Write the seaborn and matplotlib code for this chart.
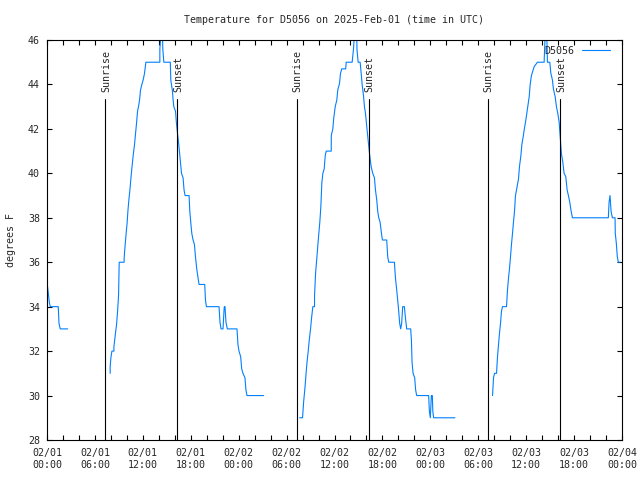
import matplotlib
matplotlib.use('Agg')
import matplotlib.pyplot as plt
import matplotlib.transforms as mtransforms
import pandas as pd
import seaborn as sns

title = 'Temperature for D5056 on 2025-Feb-01 (time in UTC)'
station = 'D5056'
ylabel = 'degrees F'

# hours since 2025-02-01 00:00 UTC, temperature in deg F
seg1_hours = [0.0, 0.12, 0.29, 0.41, 1.41, 1.5, 1.66, 2.6]
seg1_temps = [35.1, 34.75, 34.2, 34.0, 34.0, 33.25, 33.0, 33.0]

seg2_hours = [7.91, 7.91, 8.0, 8.13, 8.38, 8.38, 8.54, 8.71, 8.84, 8.96,
              9.04, 9.66, 9.66, 9.79, 9.91, 10.04, 10.13, 10.25, 10.38, 10.5,
              10.63, 10.79, 10.96, 11.09, 11.21, 11.34, 11.46, 11.59, 11.71, 11.88,
              12.04, 12.21, 12.38, 14.13, 14.13, 14.29, 14.46, 14.5, 14.63, 15.44,
              15.5, 15.71, 15.79, 15.88, 16.09, 16.21, 16.34, 16.5, 16.71, 16.84,
              17.04, 17.16, 17.29, 17.79, 17.88, 18.0, 18.13, 18.29, 18.46, 18.59,
              18.75, 18.91, 19.04, 19.75, 19.84, 19.96, 21.54, 21.66, 21.79, 22.04,
              22.16, 22.2, 22.29, 22.41, 22.58, 23.79, 23.91, 24.04, 24.25, 24.38,
              24.54, 24.79, 24.91, 25.04, 27.13]
seg2_temps = [31.0, 31.3, 31.7, 32.0, 32.0, 32.2, 32.7, 33.2, 33.8, 34.5,
              36.0, 36.0, 36.2, 36.8, 37.3, 37.8, 38.3, 38.8, 39.25, 39.75,
              40.25, 40.8, 41.3, 41.8, 42.25, 42.8, 43.0, 43.3, 43.75, 44.0,
              44.2, 44.5, 45.0, 45.0, 45.6, 46.3, 46.3, 45.6, 45.0, 45.0,
              44.2, 43.7, 43.3, 43.0, 42.8, 42.25, 41.8, 41.3, 40.5, 40.0,
              39.8, 39.25, 39.0, 39.0, 38.3, 37.8, 37.3, 37.0, 36.8, 36.25,
              35.7, 35.3, 35.0, 35.0, 34.3, 34.0, 34.0, 33.3, 33.0, 33.0,
              33.8, 34.0, 34.0, 33.3, 33.0, 33.0, 32.3, 32.0, 31.75, 31.2,
              31.0, 30.8, 30.25, 30.0, 30.0]

seg3_hours = [31.63, 32.0, 32.13, 32.29, 32.44, 32.56, 32.71, 32.84, 33.0, 33.13,
              33.29, 33.5, 33.5, 33.63, 33.79, 33.91, 34.04, 34.16, 34.29, 34.41,
              34.54, 34.71, 34.84, 34.96, 35.59, 35.6, 35.79, 35.91, 36.09, 36.29,
              36.41, 36.63, 36.75, 36.91, 37.4, 37.46, 38.21, 38.38, 38.5, 38.79,
              38.81, 38.96, 39.21, 39.34, 39.46, 39.63, 39.75, 39.88, 40.04, 40.21,
              40.38, 40.59, 40.79, 41.0, 41.13, 41.29, 41.41, 41.54, 41.71, 41.88,
              42.0, 42.54, 42.66, 42.79, 43.5, 43.63, 43.79, 43.91, 44.04, 44.16,
              44.29, 44.41, 44.54, 44.75, 44.88, 45.04, 45.54, 45.63, 45.71, 45.84,
              46.04, 46.16, 46.29, 47.79, 47.88, 48.0, 48.13, 48.25, 48.31, 48.41,
              51.09]
seg3_temps = [29.0, 29.0, 29.7, 30.3, 31.0, 31.5, 32.0, 32.5, 33.0, 33.5,
              34.0, 34.0, 34.5, 35.5, 36.2, 36.75, 37.3, 37.8, 38.5, 39.55,
              40.0, 40.2, 40.8, 41.0, 41.0, 41.7, 42.0, 42.5, 43.0, 43.3,
              43.75, 44.05, 44.5, 44.7, 44.7, 45.0, 45.0, 45.6, 46.3, 46.3,
              45.6, 45.0, 45.0, 44.5, 44.0, 43.5, 43.0, 42.7, 42.1, 41.5,
              40.9, 40.3, 40.0, 39.8, 39.25, 38.8, 38.3, 38.0, 37.8, 37.3,
              37.0, 37.0, 36.25, 36.0, 36.0, 35.3, 34.75, 34.3, 33.8, 33.25,
              33.0, 33.25, 34.0, 34.0, 33.5, 33.0, 33.0, 32.5, 31.5, 31.0,
              30.8, 30.25, 30.0, 30.0, 29.3, 29.0, 30.0, 30.0, 29.3, 29.0,
              29.0]

seg4_hours = [55.79, 55.91, 56.04, 56.29, 56.41, 56.54, 56.66, 56.79, 56.91, 57.04,
              57.54, 57.66, 57.79, 57.91, 58.04, 58.16, 58.29, 58.41, 58.54, 58.66,
              58.79, 59.04, 59.16, 59.34, 59.46, 59.63, 59.75, 59.96, 60.16, 60.38,
              60.5, 60.66, 61.0, 61.41, 62.25, 62.31, 62.38, 62.56, 62.63, 62.66,
              62.96, 63.09, 63.29, 63.41, 63.63, 63.79, 63.96, 64.13, 64.29, 64.41,
              64.59, 64.75, 64.96, 65.13, 65.29, 65.46, 65.63, 65.79, 70.29, 70.38,
              70.5, 70.63, 70.79, 71.13, 71.16, 71.29, 71.41, 71.54, 71.75]
seg4_temps = [30.0, 30.8, 31.0, 31.0, 31.75, 32.3, 32.8, 33.25, 33.8, 34.0,
              34.0, 34.75, 35.3, 35.7, 36.25, 36.8, 37.3, 37.8, 38.3, 39.0,
              39.25, 39.75, 40.3, 40.8, 41.3, 41.65, 41.95, 42.4, 42.9, 43.45,
              44.0, 44.4, 44.8, 45.0, 45.0, 45.6, 46.3, 46.3, 45.6, 45.0,
              45.0, 44.5, 44.2, 43.8, 43.45, 43.0, 42.7, 42.3, 41.5, 40.9,
              40.5, 40.0, 39.85, 39.25, 39.0, 38.7, 38.3, 38.0, 38.0, 38.7,
              39.0, 38.3, 38.0, 38.0, 37.3, 36.85, 36.25, 36.0, 36.0]

sunrise_hours = [7.29, 31.29, 55.16]
sunset_hours = [16.29, 40.29, 64.29]

tick_hours = [0, 6, 12, 18, 24, 30, 36, 42, 48, 54, 60, 66, 72]
tick_labels = ['02/01\n00:00', '02/01\n06:00', '02/01\n12:00', '02/01\n18:00',
               '02/02\n00:00', '02/02\n06:00', '02/02\n12:00', '02/02\n18:00',
               '02/03\n00:00', '02/03\n06:00', '02/03\n12:00', '02/03\n18:00',
               '02/04\n00:00']
y_ticks = [28, 30, 32, 34, 36, 38, 40, 42, 44, 46]

# ---- build long table ---- #
frames = []
for i, (h, t) in enumerate([(seg1_hours, seg1_temps), (seg2_hours, seg2_temps),
                            (seg3_hours, seg3_temps), (seg4_hours, seg4_temps)]):
    frames.append(pd.DataFrame({'hour': h, 'temp': t, 'seg': i}))
df = pd.concat(frames, ignore_index=True)

# ---- plot ---- #
sns.set_style('ticks', {'xtick.direction': 'in', 'ytick.direction': 'in'})
plt.rcParams['font.family'] = ['DejaVu Sans Mono']
plt.rcParams['font.size'] = 7.2

line_color = '#0080ff'

fig = plt.figure(figsize=(6.4, 4.8), dpi=100)
ax = fig.add_axes([47 / 640, 40 / 480, 575 / 640, 400 / 480])

for seg, part in df.groupby('seg'):
    sns.lineplot(data=part, x='hour', y='temp', ax=ax, sort=False, estimator=None,
                 color=line_color, linewidth=0.8,
                 label=station if seg == 0 else None)

trans = mtransforms.blended_transform_factory(ax.transData, ax.transAxes)
for name, hours in [('Sunrise', sunrise_hours), ('Sunset', sunset_hours)]:
    for h in hours:
        ax.axvline(h, ymin=0, ymax=0.8525, color='black', linewidth=0.8)
        ax.text(h + 0.12, 0.87, name, transform=trans, rotation=90,
                ha='center', va='bottom', fontsize=7.2)

ax.set_xlim(0, 72)
ax.set_ylim(28, 46)
ax.set_xticks(tick_hours)
ax.set_xticklabels(tick_labels)
ax.set_xticks(range(0, 73, 2), minor=True)
ax.set_yticks(y_ticks)
ax.set_yticklabels([str(v) for v in y_ticks])
ax.tick_params(which='both', direction='in', top=True, right=True,
               length=3.5, width=0.8, color='black', labelsize=7.2)
ax.tick_params(axis='x', pad=6)
ax.tick_params(axis='y', pad=5)
for s in ax.spines.values():
    s.set_linewidth(0.8)
    s.set_color('black')

ax.set_xlabel('')
ax.set_ylabel(ylabel, fontsize=7.2, labelpad=9)
ax.set_title(title, fontsize=7.2, pad=12)

ax.legend(loc='upper right', frameon=False, markerfirst=False, fontsize=7.2,
          handlelength=2.8, handletextpad=0.8, borderaxespad=0.2,
          bbox_to_anchor=(0.99, 1.0))

fig.savefig('out.png', dpi=100)
